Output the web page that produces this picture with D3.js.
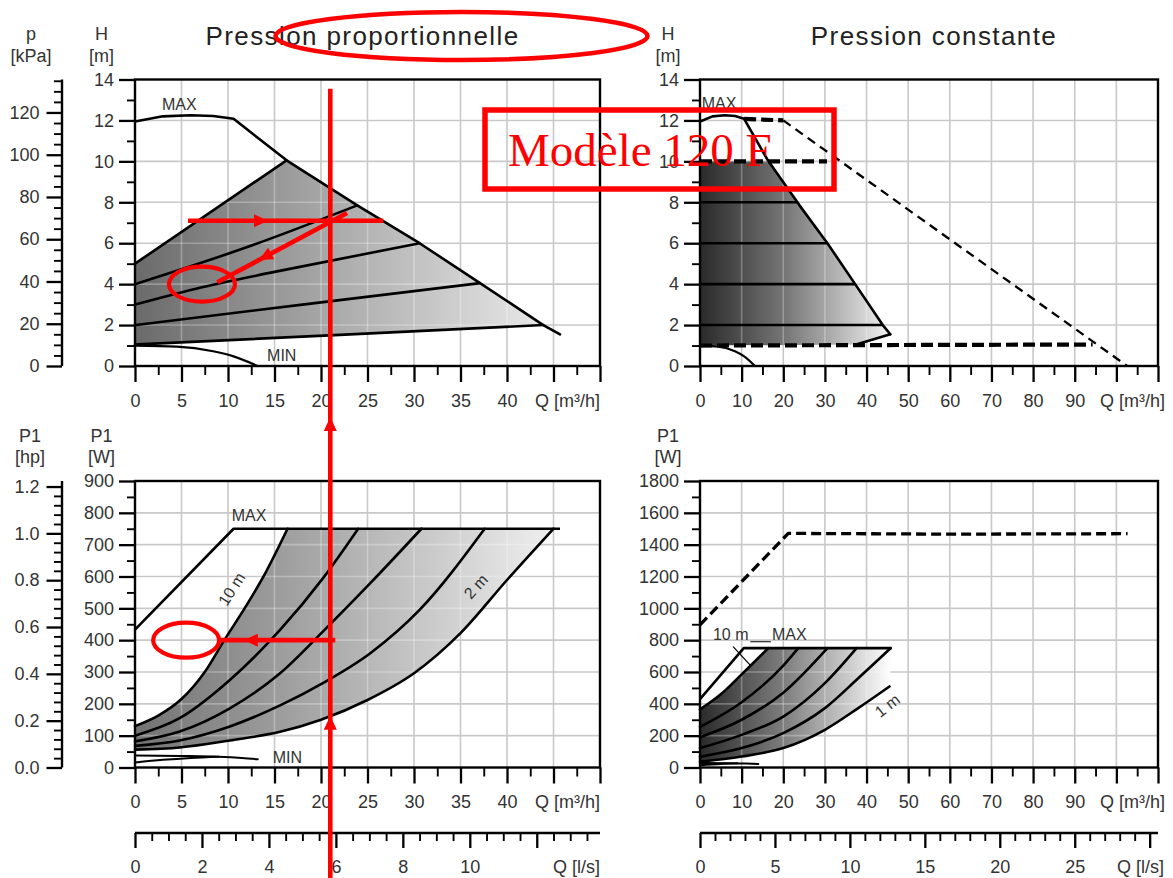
<!DOCTYPE html>
<html>
<head>
<meta charset="utf-8">
<script src="https://cdn.jsdelivr.net/npm/d3@7"></script>
<style>
  body { margin: 0; background: #fff; }
  svg { display: block; }
</style>
</head>
<body>
<svg id="chart" width="1173" height="878"></svg>
<script>
// ---------------- data ----------------
// Head curves, Q [m³/h] vs H [m]
const headMax = [[0,11.95],[3,12.2],[6,12.25],[8.4,12.22],[10.6,12.08],[16.3,10.05],[23.9,7.85],[30.6,6.0],[37.1,4.05],[43.9,2.0],[45.7,1.55]];
const headMin = [[0,1.0],[4.5,0.95],[8.4,0.72],[10.6,0.47],[13.2,0.0]];
const headProp = [
  [[0,5],[16.3,10.05]],
  [[0,4],[12,5.8],[23.9,7.85]],
  [[0,3],[7.2,3.85],[15,4.6],[30.6,6.0]],
  [[0,2],[18,3.0],[37.1,4.05]],
  [[0,1.05],[22,1.52],[43.9,2.0]]
];
const constLevels = [2, 4, 6, 8];
const constTop = 10;
const constBottom = [[0,1.0],[37.5,1.05],[45.7,1.55]];
// dashed: range of the larger model in constant pressure
const extTop = [[10.6,12.08],[20,12]];
const extSlope = [[20,12],[102.6,0]];
const extSet = [[0,10],[30.5,10]];
const extMin = [[0,1.0],[94.3,1.05]];

// Power curves, Q [m³/h] vs P1 [W]
const powPropMax = [[0,433],[10.6,750],[45.7,750]];
const powProp = [
  [[0,130],[2.5,163],[5,215],[7.5,300],[9.6,400],[12,510],[14,610],[16.4,750]],
  [[0,100],[4.8,155],[10.2,275],[15.6,432],[20.2,594],[24,750]],
  [[0,82],[4.8,113],[10.2,186],[15.6,296],[20.2,427],[25.3,579],[30.8,750]],
  [[0,68],[4.8,85],[10.2,129],[15.6,195],[20.2,265],[25.3,359],[30.6,495],[37.6,750]],
  [[0,56],[4.8,63],[10.2,85],[15.6,112],[20,150],[25,212],[30,296],[35,422],[40,589],[45,750]]
];
const powPropMinA = [[0,38],[5,36.5],[9,34],[11.5,30],[13.2,26]];
const powPropMinB = [[0,16],[3,24],[6,30],[9,34]];

const powConstMax = [[0,430],[10.5,750],[46,750]];
const powConst = [
  [[0,365],[5,460],[10,585],[16.4,750]],
  [[0,255],[10,410],[20,640],[23.6,750]],
  [[0,190],[10,300],[20,470],[30.6,750]],
  [[0,122],[10,205],[20,320],[30,530],[37.6,750]],
  [[0,68],[10,122],[20,216],[30,373],[38,561],[45.8,750]],
  [[0,36],[10,69],[20,122],[30,237],[38,373],[45.5,509]]
];
const powConstMinA = [[0,28],[7,27],[11,25],[14,22]];
const powConstMinB = [[0,14],[5,22],[9,26]];
const powConstExt = [[0,896],[21.2,1471],[60,1466],[102.7,1469]];

// tick values
const qPropMajor = d3.range(0, 51, 5);
const qPropLabels = d3.range(0, 41, 5);
const qConstMajor = d3.range(0, 111, 10);
const qConstLabels = d3.range(0, 91, 10);
const headMajor = d3.range(0, 15, 2);
const kpaMajor = d3.range(0, 121, 20);
const powPropMajor = d3.range(0, 901, 100);
const powConstMajor = d3.range(0, 1801, 200);
const hpMajor = [0, 0.2, 0.4, 0.6, 0.8, 1.0, 1.2];
const lsPropMajor = d3.range(0, 13, 2);
const lsPropLabels = d3.range(0, 11, 2);
const lsConstMajor = d3.range(0, 31, 5);
const lsConstLabels = d3.range(0, 26, 5);

// ---------------- setup ----------------
const svg = d3.select("#chart");
const FONT = "'Liberation Sans', Arial, Helvetica, sans-serif";
const TXT = "#333";
const RED = "#ff0000";
const FS = 18;

const xProp = d3.scaleLinear().domain([0, 50]).range([135, 600]);
const xConst = d3.scaleLinear().domain([0, 110]).range([700, 1158]);
const yHead = d3.scaleLinear().domain([0, 14]).range([366, 79.5]);
const yKpa = d3.scaleLinear().domain([0, 135.6]).range([366, 79.5]);
const yPowProp = d3.scaleLinear().domain([0, 900]).range([767.5, 481]);
const yHp = d3.scaleLinear().domain([0, 900 / 735.5]).range([767.5, 481]);
const yPowConst = d3.scaleLinear().domain([0, 1800]).range([767.5, 481]);
const xLsProp = d3.scaleLinear().domain([0, 50 / 3.6]).range([135, 600]);
const xLsConst = d3.scaleLinear().domain([0, 110 / 3.6]).range([700, 1158]);
const LS_Y = 833;

const defs = svg.append("defs");

function gradient(id, x, stops) {
  const g = defs.append("linearGradient").attr("id", id)
    .attr("gradientUnits", "userSpaceOnUse")
    .attr("x1", x(0)).attr("x2", x(46)).attr("y1", 0).attr("y2", 0);
  stops.forEach(([o, c]) => g.append("stop").attr("offset", o).attr("stop-color", c));
}
gradient("gTL", xProp, [[0, "#6a6a6a"], [0.45, "#a8a8a8"], [1, "#eeeeee"]]);
gradient("gTR", xConst, [[0, "#2a2a2a"], [0.45, "#777777"], [1, "#f4f4f4"]]);
gradient("gBL", xProp, [[0, "#727272"], [0.45, "#ababab"], [1, "#f2f2f2"]]);
gradient("gBR", xConst, [[0, "#2a2a2a"], [0.45, "#808080"], [1, "#ffffff"]]);

function lineGen(x, y, curve) {
  return d3.line().x(d => x(d[0])).y(d => y(d[1])).curve(curve || d3.curveLinear);
}

function grid(g, x, y, xs, ys, color, width, opacity) {
  const [y0, y1] = y.range();
  const [x0, x1] = x.range();
  g.selectAll(null).data(xs).join("line")
    .attr("x1", d => x(d)).attr("x2", d => x(d)).attr("y1", y0).attr("y2", y1)
    .attr("stroke", color).attr("stroke-width", width).attr("stroke-opacity", opacity);
  g.selectAll(null).data(ys).join("line")
    .attr("x1", x0).attr("x2", x1).attr("y1", d => y(d)).attr("y2", d => y(d))
    .attr("stroke", color).attr("stroke-width", width).attr("stroke-opacity", opacity);
}

function frame(x, y) {
  const [x0, x1] = x.range();
  const [yb, yt] = y.range();
  svg.append("rect").attr("x", x0).attr("y", yt).attr("width", x1 - x0).attr("height", yb - yt)
    .attr("fill", "none").attr("stroke", "#000").attr("stroke-width", 2.4);
}

function styleAxis(g, w) {
  g.select(".domain").remove();
  g.selectAll(".tick line").attr("stroke", "#000").attr("stroke-width", w);
  g.selectAll(".tick text").attr("font-size", FS).attr("font-family", FONT).attr("fill", TXT);
}

function axisPair(gen, scale, transform, majors, labelSet, fmt, minors, majorSize, minorSize, pad) {
  const f = fmt || (d => d);
  const aMaj = gen(scale).tickValues(majors).tickSize(majorSize).tickSizeOuter(0).tickPadding(pad)
    .tickFormat(d => labelSet.some(v => Math.abs(v - d) < 1e-9) ? f(d) : "");
  styleAxis(svg.append("g").attr("transform", transform).call(aMaj), 2.3);
  const aMin = gen(scale).tickValues(minors).tickSize(minorSize).tickSizeOuter(0).tickFormat("");
  styleAxis(svg.append("g").attr("transform", transform).call(aMin), 1.9);
}

function text(x, y, str, opts) {
  const o = opts || {};
  const t = svg.append("text").attr("x", x).attr("y", y).text(str)
    .attr("font-family", o.family || FONT).attr("font-size", o.size || FS)
    .attr("fill", o.fill || TXT).attr("text-anchor", o.anchor || "middle");
  if (o.spacing) t.attr("letter-spacing", o.spacing);
  if (o.rotate !== undefined) t.attr("transform", `rotate(${o.rotate},${x},${y})`);
  return t;
}

function stepMinors(step, end, majorStep) {
  const out = [];
  for (let i = 1; i * step <= end + 1e-9; i++) {
    const v = +(i * step).toFixed(4);
    if (Math.abs(v / majorStep - Math.round(v / majorStep)) > 1e-6) out.push(v);
  }
  return out;
}

// Region with gradient, plus lighter grid seen through the shading
function shadedRegion(id, pts, x, y, fillId, gx, gy) {
  const path = lineGen(x, y)(pts) + "Z";
  defs.append("clipPath").attr("id", id).append("path").attr("d", path);
  svg.append("path").attr("d", path).attr("fill", `url(#${fillId})`);
  const g = svg.append("g").attr("clip-path", `url(#${id})`);
  grid(g, x, y, gx, gy, "#ffffff", 1.6, 0.28);
}

function strokePath(pts, x, y, w, opts) {
  const o = opts || {};
  const p = svg.append("path").attr("d", lineGen(x, y, o.curve)(pts))
    .attr("fill", "none").attr("stroke", "#000").attr("stroke-width", w)
    .attr("stroke-linejoin", "round").attr("stroke-linecap", o.cap || "round");
  if (o.dash) p.attr("stroke-dasharray", o.dash);
  return p;
}

function qAtHead(h) {
  for (let i = 4; i < headMax.length - 1; i++) {
    const [q0, h0] = headMax[i], [q1, h1] = headMax[i + 1];
    if (h <= h0 && h >= h1) return q0 + (h0 - h) / (h0 - h1) * (q1 - q0);
  }
  return headMax[headMax.length - 1][0];
}

const GRID = "#c9c9c9";
const gxProp = d3.range(5, 50, 5);
const gxConst = d3.range(10, 110, 10);

// ---------------- top-left: proportional pressure, head ----------------
grid(svg.append("g"), xProp, yHead, gxProp, d3.range(2, 14, 2), GRID, 1.6, 1);
{
  const inner = headMax.filter(d => d[0] > 16.3 && d[0] <= 43.9);
  const region = [[0, 1.05], ...headProp[0], ...inner, ...headProp[4].slice().reverse()];
  shadedRegion("cTL", region, xProp, yHead, "gTL", gxProp, d3.range(2, 14, 2));
}
headProp.forEach(c => strokePath(c, xProp, yHead, 2.6, { curve: d3.curveMonotoneX }));
strokePath(headMax, xProp, yHead, 2.6);
strokePath(headMin, xProp, yHead, 2.2, { curve: d3.curveMonotoneX });
frame(xProp, yHead);
text(xProp(2.9), yHead(12.5), "MAX", { size: 16, anchor: "start" });
text(xProp(14.2), yHead(0.25), "MIN", { size: 16, anchor: "start" });

// ---------------- top-right: constant pressure, head ----------------
grid(svg.append("g"), xConst, yHead, gxConst, d3.range(2, 14, 2), GRID, 1.6, 1);
{
  const qt = qAtHead(constTop);
  const inner = headMax.filter(d => d[0] > qt && d[0] <= 45.7);
  const region = [[0, 1.0], [0, constTop], [qt, constTop], ...inner, ...constBottom.slice().reverse()];
  shadedRegion("cTR", region, xConst, yHead, "gTR", gxConst, d3.range(2, 14, 2));
}
constLevels.forEach(h => strokePath([[0, h], [qAtHead(h), h]], xConst, yHead, 2.6, { cap: "butt" }));
strokePath(headMax, xConst, yHead, 2.6);
strokePath(constBottom.slice(1), xConst, yHead, 2.6);
strokePath(headMin, xConst, yHead, 2.2, { curve: d3.curveMonotoneX });
strokePath(extTop, xConst, yHead, 4.2, { dash: "12,5", cap: "butt" });
strokePath(extSet, xConst, yHead, 4.2, { dash: "12,5", cap: "butt" });
strokePath(extMin, xConst, yHead, 4.2, { dash: "12,5", cap: "butt" });
strokePath(extSlope, xConst, yHead, 2.3, { dash: "9,6", cap: "butt" });
frame(xConst, yHead);
text(xConst(0.4), yHead(12.55), "MAX", { size: 16, anchor: "start" });

// ---------------- bottom-left: proportional pressure, power ----------------
grid(svg.append("g"), xProp, yPowProp, gxProp, d3.range(100, 900, 100), GRID, 1.6, 1);
{
  const a = powProp[0], e = powProp[powProp.length - 1];
  const region = [...a, ...e.slice().reverse()];
  shadedRegion("cBL", region, xProp, yPowProp, "gBL", gxProp, d3.range(100, 900, 100));
}
powProp.forEach(c => strokePath(c, xProp, yPowProp, 2.6, { curve: d3.curveMonotoneX }));
strokePath(powPropMax, xProp, yPowProp, 2.6, { cap: "butt" });
strokePath(powPropMinA, xProp, yPowProp, 2.0, { curve: d3.curveMonotoneX });
strokePath(powPropMinB, xProp, yPowProp, 2.0, { curve: d3.curveMonotoneX });
frame(xProp, yPowProp);
text(xProp(10.4), yPowProp(775), "MAX", { size: 16, anchor: "start" });
text(xProp(14.8), yPowProp(14), "MIN", { size: 16, anchor: "start" });
text(xProp(10.9), yPowProp(551), "10 m", { size: 16, rotate: -57 });
text(xProp(37.1), yPowProp(557), "2 m", { size: 16, rotate: -48 });

// ---------------- bottom-right: constant pressure, power ----------------
grid(svg.append("g"), xConst, yPowConst, gxConst, d3.range(200, 1800, 200), GRID, 1.6, 1);
{
  const a = powConst[0], e = powConst[powConst.length - 1];
  const region = [...a, [46, 750], ...e.slice().reverse()];
  shadedRegion("cBR", region, xConst, yPowConst, "gBR", gxConst, d3.range(200, 1800, 200));
}
powConst.forEach(c => strokePath(c, xConst, yPowConst, 2.6, { curve: d3.curveMonotoneX }));
strokePath(powConstMax, xConst, yPowConst, 2.6, { cap: "butt" });
strokePath(powConstMinA, xConst, yPowConst, 2.0, { curve: d3.curveMonotoneX });
strokePath(powConstMinB, xConst, yPowConst, 2.0, { curve: d3.curveMonotoneX });
strokePath(powConstExt, xConst, yPowConst, 3.3, { dash: "10,5", cap: "butt" });
frame(xConst, yPowConst);
text(xConst(3.1), yPowConst(800), "10 m", { size: 16, anchor: "start" });
text(xConst(17.3), yPowConst(800), "MAX", { size: 16, anchor: "start" });
strokePath([[12.2, 790], [16.9, 790]], xConst, yPowConst, 1.2);
strokePath([[8.0, 758], [12.0, 645]], xConst, yPowConst, 1.2);
text(xConst(45.8), yPowConst(361), "1 m", { size: 16, rotate: -38 });

// ---------------- axes ----------------
// top-left
axisPair(d3.axisBottom, xProp, `translate(0,${yHead(0)})`, qPropMajor, qPropLabels, null,
  stepMinors(2.5, 50, 5), 16, 9, 12);
axisPair(d3.axisLeft, yHead, `translate(${xProp(0)},0)`, headMajor, headMajor, null,
  stepMinors(1, 14, 2), 16, 8, 5);
svg.append("line").attr("x1", 62).attr("x2", 62).attr("y1", yKpa.range()[0]).attr("y2", yKpa.range()[1])
  .attr("stroke", "#000").attr("stroke-width", 2.4);
axisPair(d3.axisLeft, yKpa, "translate(62,0)", kpaMajor, kpaMajor, null,
  stepMinors(5, 135, 20), 15.5, 8, 7);
// top-right
axisPair(d3.axisBottom, xConst, `translate(0,${yHead(0)})`, qConstMajor, qConstLabels, null,
  stepMinors(5, 110, 10), 16, 9, 12);
axisPair(d3.axisLeft, yHead, `translate(${xConst(0)},0)`, headMajor, headMajor, null,
  stepMinors(1, 14, 2), 16, 8, 5);
// bottom-left
axisPair(d3.axisBottom, xProp, `translate(0,${yPowProp(0)})`, qPropMajor, qPropLabels, null,
  stepMinors(2.5, 50, 5), 16, 9, 12);
axisPair(d3.axisLeft, yPowProp, `translate(${xProp(0)},0)`, powPropMajor, powPropMajor, null,
  stepMinors(50, 900, 100), 16, 8, 5);
svg.append("line").attr("x1", 62).attr("x2", 62).attr("y1", yHp.range()[0]).attr("y2", yHp.range()[1])
  .attr("stroke", "#000").attr("stroke-width", 2.4);
axisPair(d3.axisLeft, yHp, "translate(62,0)", hpMajor, hpMajor, d3.format(".1f"),
  stepMinors(0.04, 1.2, 0.2), 15.5, 8, 7);
svg.append("line").attr("x1", xLsProp.range()[0]).attr("x2", xLsProp.range()[1]).attr("y1", LS_Y).attr("y2", LS_Y)
  .attr("stroke", "#000").attr("stroke-width", 2.4);
axisPair(d3.axisBottom, xLsProp, `translate(0,${LS_Y})`, lsPropMajor, lsPropLabels, null,
  stepMinors(0.5, 13.5, 2), 15, 8, 12);
// bottom-right
axisPair(d3.axisBottom, xConst, `translate(0,${yPowConst(0)})`, qConstMajor, qConstLabels, null,
  stepMinors(5, 110, 10), 16, 9, 12);
axisPair(d3.axisLeft, yPowConst, `translate(${xConst(0)},0)`, powConstMajor, powConstMajor, null,
  stepMinors(100, 1800, 200), 16, 8, 5);
svg.append("line").attr("x1", xLsConst.range()[0]).attr("x2", xLsConst.range()[1]).attr("y1", LS_Y).attr("y2", LS_Y)
  .attr("stroke", "#000").attr("stroke-width", 2.4);
axisPair(d3.axisBottom, xLsConst, `translate(0,${LS_Y})`, lsConstMajor, lsConstLabels, null,
  stepMinors(1, 30, 5), 15, 8, 12);

// axis unit labels
text(xProp(50), 407, "Q [m³/h]", { anchor: "end" });
text(xConst(110) + 7, 407, "Q [m³/h]", { anchor: "end" });
text(xProp(50), 808, "Q [m³/h]", { anchor: "end" });
text(xConst(110) + 7, 808, "Q [m³/h]", { anchor: "end" });
text(xLsProp.range()[1], 873, "Q [l/s]", { anchor: "end" });
text(xLsConst.range()[1] + 6, 873, "Q [l/s]", { anchor: "end" });

text(31, 40, "p"); text(31, 62, "[kPa]");
text(101.5, 40, "H"); text(101.5, 62, "[m]");
text(668, 40, "H"); text(668, 62, "[m]");
text(30, 442, "P1"); text(30, 463, "[hp]");
text(101.5, 442, "P1"); text(101.5, 463, "[W]");
text(668, 442, "P1"); text(668, 463, "[W]");

text(362.5, 45, "Pression proportionnelle", { size: 26, fill: "#222", spacing: 1.4 });
text(934, 45, "Pression constante", { size: 26, fill: "#222", spacing: 1.4 });

// ---------------- red reading marks ----------------
const readQ = 21;          // flow read on the chart [m³/h]
const readH = 7.1;         // head at the duty point [m]
const readW = 400;         // resulting power [W]
const red = svg.append("g");

function redLine(x1, y1, x2, y2, w) {
  red.append("line").attr("x1", x1).attr("y1", y1).attr("x2", x2).attr("y2", y2)
    .attr("stroke", RED).attr("stroke-width", w || 4.6);
}
function redArrow(tx, ty, ux, uy) {
  const L = 14, Hw = 6.5;
  const bx = tx - ux * L, by = ty - uy * L;
  const px = -uy, py = ux;
  red.append("path")
    .attr("d", `M${tx},${ty}L${bx + px * Hw},${by + py * Hw}L${bx - px * Hw},${by - py * Hw}Z`)
    .attr("fill", RED);
}
function redEllipse(cx, cy, rx, ry, w) {
  red.append("ellipse").attr("cx", cx).attr("cy", cy).attr("rx", rx).attr("ry", ry)
    .attr("fill", "none").attr("stroke", RED).attr("stroke-width", w || 4.2);
}

// vertical reading line through both charts
const vx = xProp(readQ);
redLine(vx, yHead(13.55), vx, 878);
redArrow(vx, 417, 0, -1);
redArrow(vx, yPowProp(d3.scaleLinear().domain([20, 25]).range([150, 212])(readQ)), 0, -1);
// duty point on the head chart
redLine(xProp(5.7), yHead(readH), xProp(26.7), yHead(readH));
redArrow(xProp(14.3), yHead(readH), 1, 0);
{
  const x1 = xProp(22.8), y1 = yHead(7.48), x2 = xProp(8.85), y2 = yHead(4.09);
  redLine(x1, y1, x2, y2);
  const len = Math.hypot(x2 - x1, y2 - y1), ux = (x2 - x1) / len, uy = (y2 - y1) / len;
  const t = 0.68;
  redArrow(x1 + (x2 - x1) * t, y1 + (y2 - y1) * t, ux, uy);
}
redEllipse(xProp(7.2), yHead(4.0), 33, 17.5);
// power read-out
redLine(xProp(readQ) + 5, yPowProp(readW), xProp(9.0), yPowProp(readW));
redArrow(xProp(11.7), yPowProp(readW), -1, 0);
redEllipse(xProp(5.5), yPowProp(readW), 33, 17.5);
// title and model marks
redEllipse(461.5, 36, 186, 24, 4.6);
red.append("rect").attr("x", 485).attr("y", 110).attr("width", 349).attr("height", 79)
  .attr("fill", "none").attr("stroke", RED).attr("stroke-width", 5.5);
text(508, 166, "Modèle 120 F", { family: "'Liberation Serif', 'Times New Roman', serif", size: 47, fill: RED, anchor: "start" });
</script>
</body>
</html>
